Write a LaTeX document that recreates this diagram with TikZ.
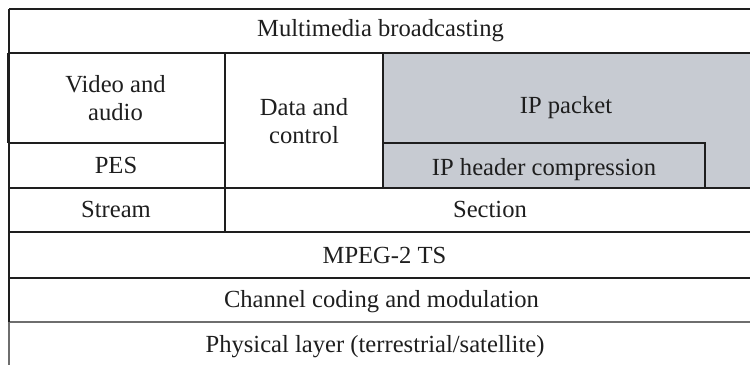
\documentclass[tikz,border=0pt]{standalone}
\usepackage{fontspec}
\setmainfont{Liberation Serif}
\begin{document}
\begin{tikzpicture}[x=1pt,y=1pt,yscale=-1,xscale=1,
  rule/.style={color={rgb, 255:red, 30; green, 30; blue, 30 },line width=1.3pt},
  softrule/.style={color={rgb, 255:red, 110; green, 110; blue, 110 },line width=1.3pt},
  label/.style={inner sep=0pt,font=\fontsize{24.6}{28}\selectfont,
    color={rgb, 255:red, 30; green, 30; blue, 30 }}]
\useasboundingbox (0,0) rectangle (750,365);

%Shaded IP area
\fill [color={rgb, 255:red, 199; green, 203; blue, 210 }] (383,53) rectangle (750,188) ;

%Straight Lines (rows)
\draw [rule] (9,9) -- (750,9) ;
\draw [rule] (9,53) -- (750,53) ;
\draw [rule] (7.5,143) -- (224,143) ;
\draw [rule] (9,188) -- (750,188) ;
\draw [rule] (9,232) -- (750,232) ;
\draw [rule] (9,278) -- (750,278) ;
\draw [softrule] (9,322) -- (750,322) ;
%Straight Lines (columns)
\draw [rule] (9,9) -- (9,322) ;
\draw [softrule] (9,322) -- (9,365) ;
\draw [rule] (7.5,53) -- (7.5,143) ;
\draw [rule] (225,53) -- (225,232) ;
\draw [rule] (383,53) -- (383,188) ;
\draw [rule] (383,143) -- (705,143) -- (705,188) ;

% Text Node
\node (mmb) [label,anchor=base] at (380.5,36) {Multimedia broadcasting};
% Text Node
\node (va) [label,align=center] at (115.5,98) {Video and\\audio};
% Text Node
\node (dc) [label,align=center] at (304,121) {Data and\\control};
% Text Node
\node (ipp) [label,anchor=base] at (566,113) {IP packet};
% Text Node
\node (iphc) [label,anchor=base] at (544,175) {IP header compression};
% Text Node
\node (pes) [label,anchor=base] at (116,173) {PES};
% Text Node
\node (strm) [label,anchor=base] at (116,217) {Stream};
% Text Node
\node (sect) [label,anchor=base] at (490,217) {Section};
% Text Node
\node (ts) [label,anchor=base] at (384.5,263) {MPEG-2 TS};
% Text Node
\node (ccm) [label,anchor=base] at (381.5,307) {Channel coding and modulation};
% Text Node
\node (phy) [label,anchor=base] at (375,352) {Physical layer (terrestrial/satellite)};

\end{tikzpicture}
\end{document}
